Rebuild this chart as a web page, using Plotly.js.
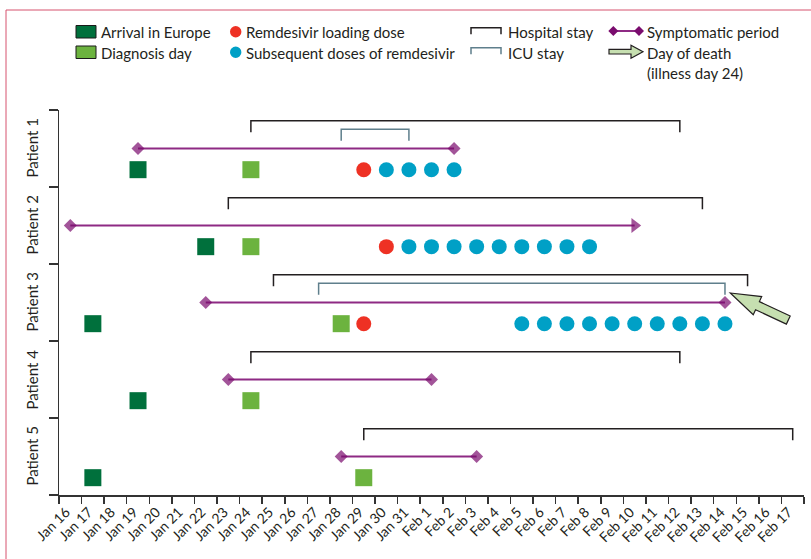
<!DOCTYPE html>
<html>
<head>
<meta charset="utf-8">
<script src="https://cdn.plot.ly/plotly-3.0.1.min.js"></script>
<style>html,body{margin:0;padding:0;background:#fff;}#chart{width:811px;height:559px;}</style>
</head>
<body>
<div id="chart"></div>
<script>
// ---------------- DATA ----------------
const patients = ['Patient 1', 'Patient 2', 'Patient 3', 'Patient 4', 'Patient 5'];
const arrivalInEurope = ['2020-01-19', '2020-01-22', '2020-01-17', '2020-01-19', '2020-01-17'];
const diagnosisDay = ['2020-01-24', '2020-01-24', '2020-01-28', '2020-01-24', '2020-01-29'];
const loadingDose = ['2020-01-29', '2020-01-30', '2020-01-29', null, null];
const subsequentDoses = [
  ['2020-01-30', '2020-01-31', '2020-02-01', '2020-02-02'],
  ['2020-01-31', '2020-02-01', '2020-02-02', '2020-02-03', '2020-02-04', '2020-02-05', '2020-02-06', '2020-02-07', '2020-02-08'],
  ['2020-02-05', '2020-02-06', '2020-02-07', '2020-02-08', '2020-02-09', '2020-02-10', '2020-02-11', '2020-02-12', '2020-02-13', '2020-02-14'],
  [],
  []
];
const hospitalStart = ['2020-01-24', '2020-01-23', '2020-01-25', '2020-01-24', '2020-01-29'];
const hospitalEnd = ['2020-02-12', '2020-02-13', '2020-02-15', '2020-02-12', '2020-02-17'];
const icuStart = ['2020-01-28', null, '2020-01-27', null, null];
const icuEnd = ['2020-01-31', null, '2020-02-14', null, null];
const symptomStart = ['2020-01-19', '2020-01-16', '2020-01-22', '2020-01-23', '2020-01-28'];
const symptomEnd = ['2020-02-02', '2020-02-10', '2020-02-14', '2020-02-01', '2020-02-03'];
const symptomOngoing = [false, true, false, false, false];
const deathPatient = 2;               // index of Patient 3
const deathDate = '2020-02-14';
const tickDates = ['2020-01-16','2020-01-17','2020-01-18','2020-01-19','2020-01-20','2020-01-21','2020-01-22','2020-01-23','2020-01-24','2020-01-25','2020-01-26','2020-01-27','2020-01-28','2020-01-29','2020-01-30','2020-01-31','2020-02-01','2020-02-02','2020-02-03','2020-02-04','2020-02-05','2020-02-06','2020-02-07','2020-02-08','2020-02-09','2020-02-10','2020-02-11','2020-02-12','2020-02-13','2020-02-14','2020-02-15','2020-02-16','2020-02-17','2020-02-18'];
const tickLabels = ['Jan 16','Jan 17','Jan 18','Jan 19','Jan 20','Jan 21','Jan 22','Jan 23','Jan 24','Jan 25','Jan 26','Jan 27','Jan 28','Jan 29','Jan 30','Jan 31','Feb 1','Feb 2','Feb 3','Feb 4','Feb 5','Feb 6','Feb 7','Feb 8','Feb 9','Feb 10','Feb 11','Feb 12','Feb 13','Feb 14','Feb 15','Feb 16','Feb 17',''];

// ---------------- STYLE ----------------
const FONT = 'Lato, "Open Sans", sans-serif';
const TXT = '#231f20';
const C = {
  arrival: '#00703c', diagnosis: '#6cb33f', loading: '#ee3124', dose: '#00a0c6',
  hosp: '#231f20', icu: '#5f7f8c', sympLine: '#8e2a84', sympMark: '#7a0c6e',
  deathFill: '#c6dfb0', frame: '#d6536e'
};
const W = 811, H = 559, L = 59, R = 804, T = 110, B = 495;
const px = x => (x - L) / (R - L);
const py = y => (B - y) / (B - T);
const noon = d => d + ' 12:00';
const N = patients.length;
const bandTop = i => N - i;
const OFF = {hosp: 0.14, icu: 0.25, symp: 0.5, mark: 0.775, drop: 0.15};

// ---------------- TRACES ----------------
function bracketTrace(starts, ends, off, color) {
  const x = [], y = [];
  starts.forEach((s, i) => {
    if (!s) return;
    const yy = bandTop(i) - off;
    x.push(noon(s), noon(s), noon(ends[i]), noon(ends[i]), null);
    y.push(yy - OFF.drop, yy, yy, yy - OFF.drop, null);
  });
  return {type: 'scatter', mode: 'lines', x, y, line: {color, width: 1.5}, hoverinfo: 'skip', showlegend: false};
}

const sympX = [], sympY = [], symMX = [], symMY = [], symMS = [], symMSize = [];
symptomStart.forEach((s, i) => {
  const yy = bandTop(i) - OFF.symp;
  sympX.push(noon(s), noon(symptomEnd[i]), null);
  sympY.push(yy, yy, null);
  symMX.push(noon(s), noon(symptomEnd[i]));
  symMY.push(yy, yy);
  symMS.push('diamond', symptomOngoing[i] ? 'triangle-right' : 'diamond');
  symMSize.push(10, symptomOngoing[i] ? 13 : 10);
});

function markerTrace(dates, symbol, size, color) {
  const x = [], y = [];
  dates.forEach((d, i) => {
    const list = Array.isArray(d) ? d : [d];
    list.forEach(v => { if (v) { x.push(noon(v)); y.push(bandTop(i) - OFF.mark); } });
  });
  return {type: 'scatter', mode: 'markers', x, y, marker: {symbol, size, color, line: {width: 0}}, hoverinfo: 'skip', showlegend: false};
}

const traces = [
  bracketTrace(hospitalStart, hospitalEnd, OFF.hosp, C.hosp),
  bracketTrace(icuStart, icuEnd, OFF.icu, C.icu),
  {type: 'scatter', mode: 'lines', x: sympX, y: sympY, line: {color: C.sympLine, width: 2}, hoverinfo: 'skip', showlegend: false},
  {type: 'scatter', mode: 'markers', x: symMX, y: symMY, marker: {symbol: symMS, size: symMSize, color: C.sympMark, line: {width: 0}}, hoverinfo: 'skip', showlegend: false},
  markerTrace(arrivalInEurope, 'square', 17, C.arrival),
  markerTrace(diagnosisDay, 'square', 17, C.diagnosis),
  markerTrace(loadingDose, 'circle', 15, C.loading),
  markerTrace(subsequentDoses, 'circle', 15, C.dose)
];

// ---------------- ARROWS ----------------
function arrowPts(tx, ty, angDeg, len, headLen, headHalf, shaftHalf) {
  const a = angDeg * Math.PI / 180;
  const d = [Math.cos(a), Math.sin(a)], n = [-Math.sin(a), Math.cos(a)];
  const P = (s, t) => [tx + d[0] * s + n[0] * t, ty + d[1] * s + n[1] * t];
  return [P(0, 0), P(headLen, -headHalf), P(headLen, -shaftHalf), P(len, -shaftHalf),
          P(len, shaftHalf), P(headLen, shaftHalf), P(headLen, headHalf)];
}
function pathFrom(pts, fx, fy) {
  return pts.map((p, k) => (k ? 'L' : 'M') + fx(p[0]).toFixed(5) + ',' + fy(p[1]).toFixed(5)).join(' ') + ' Z';
}

const shapes = [];
shapes.push({type: 'path', xref: 'paper', yref: 'paper',
  path: `M${px(6)},${py(559)} L${px(6)},${py(10)} L${px(811)},${py(10)}`,
  line: {color: C.frame, width: 1}});

const deathPts = arrowPts(5.3, -9.5, 25, 64, 30, 10, 4.5);
shapes.push({type: 'path', xref: 'x', yref: 'y', xsizemode: 'pixel', ysizemode: 'pixel',
  xanchor: noon(deathDate), yanchor: bandTop(deathPatient) - OFF.symp,
  path: pathFrom(deathPts, v => v, v => -v),
  fillcolor: C.deathFill, line: {color: TXT, width: 1.2}});

// ---------------- LEGEND (manual) ----------------
const ann = [];
function legText(x, y, text) {
  ann.push({xref: 'paper', yref: 'paper', x: px(x), y: py(y), xanchor: 'left', yanchor: 'middle',
    text, showarrow: false, font: {family: FONT, size: 15, color: TXT}});
}
function rectPx(x0, y0, x1, y1, fill) {
  shapes.push({type: 'rect', xref: 'paper', yref: 'paper', x0: px(x0), x1: px(x1), y0: py(y1), y1: py(y0),
    fillcolor: fill, line: {color: '#1a1a1a', width: 1}});
}
function circlePx(cx, cy, r, fill) {
  shapes.push({type: 'circle', xref: 'paper', yref: 'paper', x0: px(cx - r), x1: px(cx + r), y0: py(cy + r), y1: py(cy - r),
    fillcolor: fill, line: {width: 0}});
}
function bracketPx(x0, x1, y, drop, color) {
  shapes.push({type: 'path', xref: 'paper', yref: 'paper',
    path: `M${px(x0)},${py(y + drop)} L${px(x0)},${py(y)} L${px(x1)},${py(y)} L${px(x1)},${py(y + drop)}`,
    line: {color, width: 1.5}});
}
function diamondPx(cx, cy, r, fill) {
  shapes.push({type: 'path', xref: 'paper', yref: 'paper',
    path: `M${px(cx - r)},${py(cy)} L${px(cx)},${py(cy - r)} L${px(cx + r)},${py(cy)} L${px(cx)},${py(cy + r)} Z`,
    fillcolor: fill, line: {width: 0}});
}

const r1 = 31.5, r2 = 52.5, r3 = 73;
rectPx(76, 25.5, 96, 38, C.arrival);           legText(99, r1, 'Arrival in Europe');
rectPx(76, 46, 96, 58.5, C.diagnosis);         legText(99, r2, 'Diagnosis day');
circlePx(235.7, 31.7, 5.7, C.loading);         legText(244, r1, 'Remdesivir loading dose');
circlePx(235.7, 52.3, 5.7, C.dose);            legText(244, r2, 'Subsequent doses of remdesivir');
bracketPx(471, 501, 27.7, 6.6, C.hosp);        legText(506, r1, 'Hospital stay');
bracketPx(471, 501, 47.7, 6.6, C.icu);         legText(506, r2, 'ICU stay');
shapes.push({type: 'line', xref: 'paper', yref: 'paper', x0: px(613), x1: px(639), y0: py(31), y1: py(31),
  line: {color: C.sympLine, width: 2}});
diamondPx(613.3, 31, 5, C.sympMark); diamondPx(639, 31, 5, C.sympMark);
legText(645, r1, 'Symptomatic period');
shapes.push({type: 'path', xref: 'paper', yref: 'paper',
  path: pathFrom(arrowPts(643, 51.7, 180, 34, 12, 6.5, 2.3), px, py),
  fillcolor: C.deathFill, line: {color: TXT, width: 1.2}});
legText(645, r2, 'Day of death');
legText(645, r3, '(illness day 24)');

patients.forEach((p, i) => {
  ann.push({xref: 'paper', yref: 'y', x: px(31), y: bandTop(i) - 0.5, xanchor: 'center', yanchor: 'middle',
    text: p, textangle: -90, showarrow: false, font: {family: FONT, size: 15, color: TXT}});
});

// ---------------- LAYOUT ----------------
const layout = {
  width: W, height: H,
  margin: {l: L, r: W - R, t: T, b: H - B, pad: 0},
  paper_bgcolor: '#fff', plot_bgcolor: '#fff',
  font: {family: FONT, color: TXT},
  showlegend: false,
  xaxis: {
    type: 'date', range: [tickDates[0], tickDates[tickDates.length - 1]],
    tickmode: 'array', tickvals: tickDates, ticktext: tickLabels, tickangle: -45,
    ticklabelshift: 7, ticklabelstandoff: -5,
    ticks: 'outside', ticklen: 7, tickwidth: 1.5, tickcolor: '#333',
    showline: true, linecolor: '#333', linewidth: 1.5,
    showgrid: false, zeroline: false, fixedrange: true,
    tickfont: {family: FONT, size: 14, color: TXT}
  },
  yaxis: {
    range: [0, N], tickmode: 'array', tickvals: [0, 1, 2, 3, 4, 5], showticklabels: false,
    ticks: 'outside', ticklen: 9, tickwidth: 1.5, tickcolor: '#333',
    showline: true, linecolor: '#333', linewidth: 1.5,
    showgrid: false, zeroline: false, fixedrange: true
  },
  shapes, annotations: ann
};

Plotly.newPlot('chart', traces, layout, {staticPlot: true, displayModeBar: false});
</script>
</body>
</html>
